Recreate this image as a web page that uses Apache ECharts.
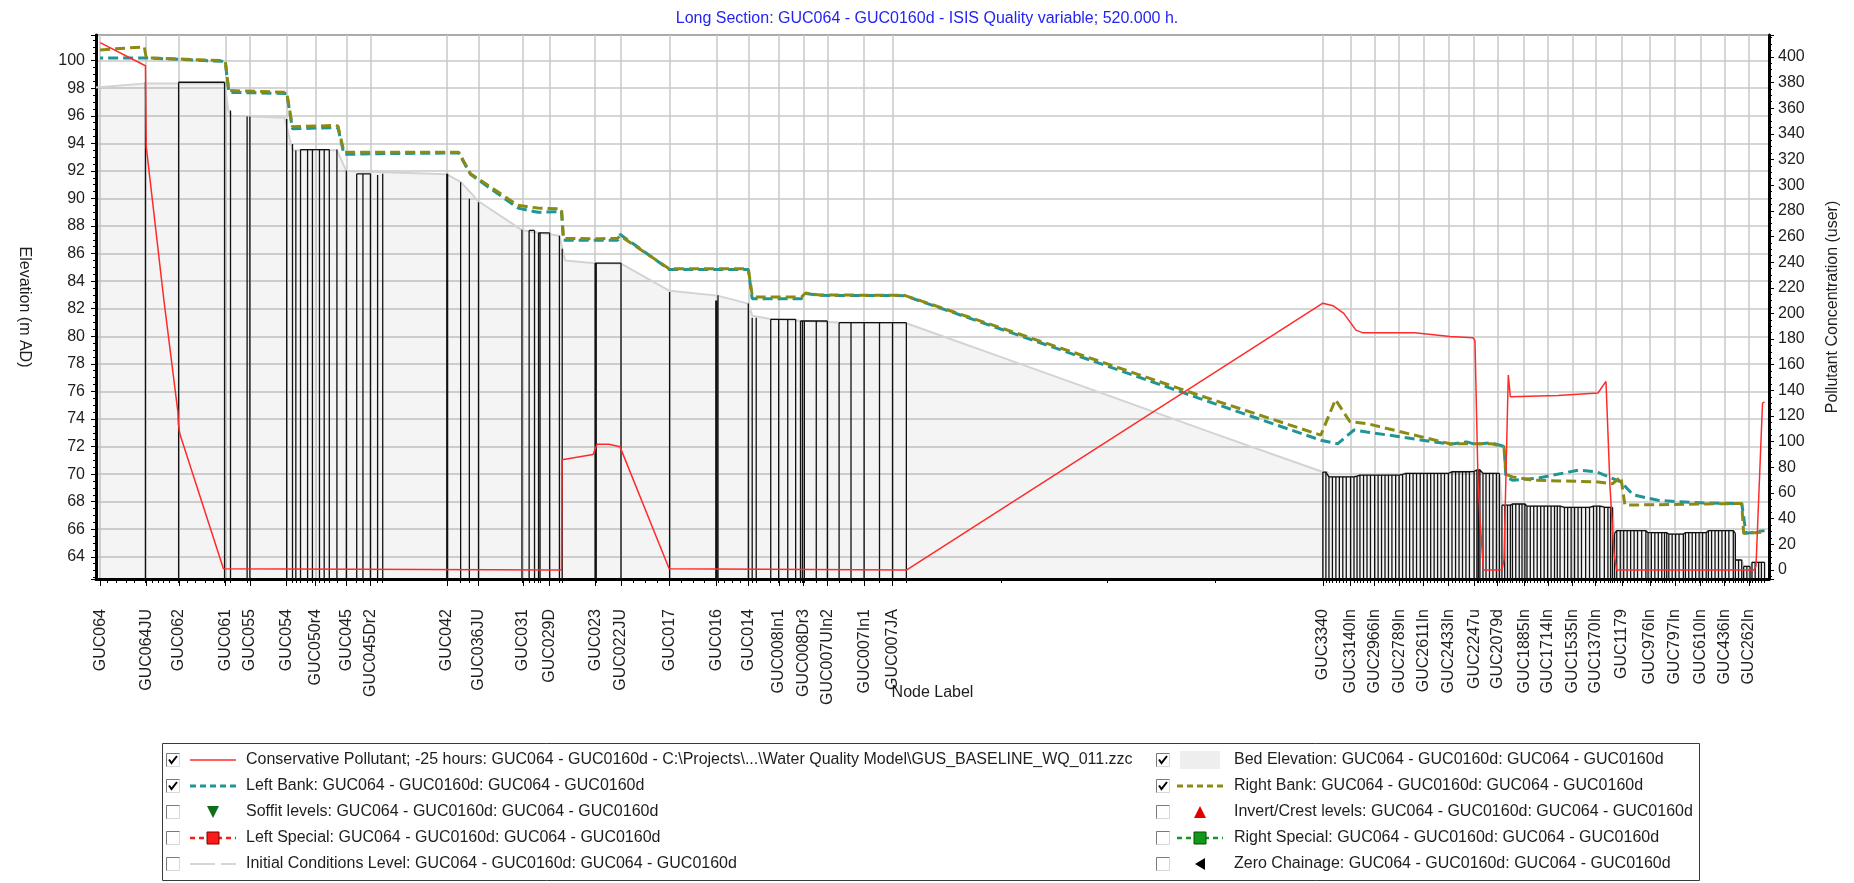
<!DOCTYPE html>
<html>
<head>
<meta charset="utf-8">
<script src="https://cdn.jsdelivr.net/npm/echarts@6/dist/echarts.min.js"></script>
<style>
  html, body { margin: 0; padding: 0; background: #ffffff; }
  #chart { width: 1854px; height: 883px; }
</style>
</head>
<body>
<div id="chart"></div>
<script>
// Long section of the GUC064 - GUC0160d reach: bed, banks, structures and pollutant concentration.
const FONT = "'Liberation Sans', Arial, sans-serif";

// Labelled nodes and their chainage (m)
const nodeLabels = ['GUC064','GUC064JU','GUC062','GUC061','GUC055','GUC054','GUC050r4','GUC045','GUC045Dr2',
  'GUC042','GUC036JU','GUC031','GUC029D','GUC023','GUC022JU','GUC017','GUC016','GUC014','GUC008In1',
  'GUC008Dr3','GUC007UIn2','GUC007In1','GUC007JA','GUC3340','GUC3140In','GUC2966In','GUC2789In',
  'GUC2611In','GUC2433In','GUC2247u','GUC2079d','GUC1885In','GUC1714In','GUC1535In','GUC1370In',
  'GUC1179','GUC976In','GUC797In','GUC610In','GUC436In','GUC262In'];
const nodeChainage = [0, 333, 568, 905, 1082, 1348, 1556, 1780, 1954, 2505, 2734, 3054, 3248, 3577, 3764,
  4115, 4455, 4684, 4906, 5083, 5255, 5521, 5727, 8836, 9036, 9210, 9387, 9565, 9743, 9929, 10097, 10291,
  10462, 10641, 10806, 10997, 11200, 11379, 11566, 11740, 11914];

// Unlabelled cross-sections (minor ticks)
const sectionChainage = [53, 119, 185, 247, 376, 419, 453, 499, 633, 690, 756, 819, 3849, 3941, 4026,
  4197, 4283, 4369, 4513, 4570, 4627, 6512, 7278, 8056];

// Axis ranges
const chainRange = [-30, 12060];
const elevRange = [62.39, 101.86];
const concRange = [-7, 417];

// Bed elevation (chainage, m AD)
const bedElevation = [[-30, 98.05], [333, 98.35], [899, 98.35], [928, 96.3], [950, 96.0], [1333, 95.85],
  [1390, 93.5], [1711, 93.5], [1779, 92.0], [2505, 91.75], [2605, 91.2], [2734, 89.8], [3048, 87.7],
  [3319, 87.3], [3360, 85.5], [3577, 85.3], [3764, 85.27], [4115, 83.3], [4460, 82.95], [4684, 82.37],
  [4712, 81.5], [4846, 81.25], [5061, 81.12], [5340, 81.0], [5826, 80.95], [6512, 78.49], [7278, 75.73],
  [8056, 72.92], [8836, 70.15], [8870, 70.15], [8880, 69.8], [9061, 69.8], [9104, 69.93], [9393, 69.93],
  [9422, 70.05], [9740, 70.05], [9769, 70.17], [9906, 70.17], [9949, 70.3], [9971, 70.3], [9993, 70.05],
  [10112, 70.05], [10130, 67.75], [10191, 67.75], [10206, 67.83], [10296, 67.83], [10311, 67.68],
  [10550, 67.68], [10582, 67.58], [10763, 67.58], [10792, 67.68], [10837, 67.68], [10896, 67.58],
  [10929, 67.58], [10944, 65.7], [10960, 65.9], [11170, 65.9], [11186, 65.75], [11321, 65.75],
  [11336, 65.65], [11441, 65.65], [11456, 65.75], [11606, 65.75], [11622, 65.9], [11802, 65.9],
  [11817, 63.77], [11863, 63.77], [11877, 63.3], [11923, 63.3], [11937, 63.6], [12028, 63.6]];

// Left bank (chainage, m AD)
const leftBank = [[0, 100.2], [319, 100.2], [327, 100.3], [333, 100.15], [568, 100.1], [883, 99.95],
  [905, 99.85], [930, 97.7], [1348, 97.62], [1390, 95.05], [1704, 95.15], [1719, 95.1], [1762, 93.2],
  [2022, 93.25], [2591, 93.3], [2676, 91.75], [3020, 89.3], [3163, 89.0], [3319, 89.05], [3334, 89.1],
  [3348, 86.96], [3740, 86.96], [3756, 87.4], [4112, 84.85], [4684, 84.85], [4693, 84.75], [4712, 82.73],
  [5069, 82.73], [5083, 82.9], [5098, 83.1], [5200, 82.97], [5813, 82.95], [6512, 80.51], [7278, 77.84],
  [7948, 75.48], [8821, 72.46], [8942, 72.2], [9061, 73.2], [9153, 73.06], [9755, 72.17], [9875, 72.34],
  [9935, 72.17], [10056, 72.27], [10145, 72.0], [10159, 69.8], [10206, 69.56], [10387, 69.7],
  [10687, 70.3], [10810, 70.17], [10990, 69.44], [11077, 68.5], [11258, 68.1], [11395, 68.0],
  [11600, 67.9], [11863, 67.87], [11894, 65.7], [12028, 65.9]];

// Right bank (chainage, m AD)
const rightBank = [[0, 100.78], [319, 101.0], [327, 101.0], [333, 100.2], [568, 100.12], [883, 100.0],
  [905, 99.9], [930, 97.83], [1348, 97.7], [1390, 95.2], [1704, 95.3], [1719, 95.25], [1762, 93.36],
  [2591, 93.36], [2676, 91.8], [3020, 89.5], [3163, 89.3], [3319, 89.25], [3334, 89.2], [3348, 87.1],
  [3612, 87.08], [3740, 87.1], [3756, 87.3], [4112, 84.9], [4684, 84.9], [4693, 84.8], [4712, 82.97],
  [4745, 82.85], [5069, 82.85], [5083, 83.0], [5098, 83.14], [5200, 83.0], [5813, 82.97], [6512, 80.6],
  [7278, 78.0], [7948, 75.7], [8821, 72.83], [8927, 75.4], [9032, 73.8], [9153, 73.67], [9755, 72.2],
  [10056, 72.2], [10145, 72.0], [10159, 70.0], [10206, 69.8], [10354, 69.56], [10810, 69.44],
  [10929, 69.3], [10989, 69.8], [11019, 67.75], [11863, 67.87], [11877, 65.7], [12028, 65.8]];

// Conservative pollutant concentration (chainage, user units)
const pollutant = [[0, 411], [327, 393], [333, 330], [461, 210], [562, 123], [565, 114], [576, 106],
  [891, 1], [900, 0], [3319, 0], [3334, 0], [3338, 86], [3348, 86], [3562, 90], [3591, 98], [3677, 98],
  [3757, 96], [4112, 1], [4125, 0], [5826, 0], [8836, 208], [8909, 206], [8987, 200], [9075, 187],
  [9122, 185], [9499, 185], [9755, 182], [9921, 181], [9935, 179], [9957, 70], [9972, 39], [9996, 0],
  [10130, 0], [10145, 8], [10152, 8], [10176, 152], [10191, 135], [10535, 136], [10824, 138],
  [10882, 147], [10911, 65], [10940, 13], [10959, 0], [11952, 0], [11966, 3], [12013, 130], [12028, 131]];

// Structure / culvert runs: each run is a list of (chainage, top level)
const culvertRuns = [
  [[327, 98.43]],
  [[567, 98.43], [899, 98.43]],
  [[942, 96.38]], [[1062, 95.94]], [[1082, 95.94]], [[1348, 95.77]], [[1390, 93.96]], [[1414, 93.48]],
  [[1448, 93.55], [1499, 93.55], [1534, 93.55], [1585, 93.55], [1619, 93.55], [1656, 93.55]],
  [[1711, 93.55]], [[1779, 92.03]],
  [[1854, 91.79], [1899, 91.79], [1953, 91.79]],
  [[2005, 91.7]], [[2042, 91.8]], [[2505, 91.79]], [[2511, 91.79]], [[2605, 91.18]], [[2668, 89.98]],
  [[2734, 89.73]], [[3048, 87.73]],
  [[3100, 87.68], [3139, 87.68]],
  [[3168, 87.51], [3179, 87.51], [3248, 87.51]],
  [[3319, 87.3]], [[3339, 86.35]],
  [[3577, 85.31], [3585, 85.31], [3764, 85.31]],
  [[4115, 83.21]], [[4449, 82.6]], [[4455, 82.6]], [[4465, 82.97]], [[4684, 82.37]], [[4712, 81.35]],
  [[4741, 81.35]],
  [[4846, 81.23], [4903, 81.23], [4969, 81.23], [5026, 81.23]],
  [[5061, 81.11], [5075, 81.11], [5089, 81.11], [5175, 81.11], [5255, 81.11]],
  [[5340, 80.99], [5426, 80.99], [5521, 80.99], [5632, 80.99], [5726, 80.99], [5826, 80.99]]
];

const channelRuns = [
  [[8836, 70.15], [8858, 70.15], [8880, 69.8], [8905, 69.8], [8930, 69.8], [8955, 69.8], [8980, 69.8],
   [9005, 69.8], [9036, 69.8], [9061, 69.8], [9083, 69.85], [9104, 69.93], [9130, 69.93], [9155, 69.93],
   [9180, 69.93], [9210, 69.93], [9235, 69.93], [9260, 69.93], [9285, 69.93], [9310, 69.93], [9335, 69.93],
   [9362, 69.93], [9387, 69.93], [9412, 69.98], [9438, 70.05], [9463, 70.05], [9488, 70.05], [9513, 70.05],
   [9540, 70.05], [9565, 70.05], [9590, 70.05], [9615, 70.05], [9640, 70.05], [9665, 70.05], [9690, 70.05],
   [9715, 70.05], [9743, 70.05], [9769, 70.17], [9795, 70.17], [9820, 70.17], [9845, 70.17], [9870, 70.17],
   [9895, 70.17], [9929, 70.2], [9949, 70.3], [9960, 70.3], [9971, 70.3], [9993, 70.05], [10015, 70.05],
   [10040, 70.05], [10065, 70.05], [10090, 70.05], [10112, 70.05]],
  [[10130, 67.75], [10150, 67.75], [10170, 67.75], [10191, 67.75], [10206, 67.83], [10230, 67.83],
   [10255, 67.83], [10275, 67.83], [10296, 67.83], [10311, 67.68], [10335, 67.68], [10360, 67.68],
   [10385, 67.68], [10410, 67.68], [10435, 67.68], [10460, 67.68], [10485, 67.68], [10510, 67.68],
   [10530, 67.68], [10550, 67.68], [10582, 67.58], [10605, 67.58], [10630, 67.58], [10655, 67.58],
   [10680, 67.58], [10705, 67.58], [10735, 67.58], [10763, 67.58], [10792, 67.68], [10815, 67.68],
   [10837, 67.68], [10870, 67.6], [10896, 67.58], [10915, 67.58], [10929, 67.58]],
  [[10944, 65.7], [10960, 65.9], [10985, 65.9], [11010, 65.9], [11035, 65.9], [11060, 65.9], [11085, 65.9],
   [11110, 65.9], [11140, 65.9], [11170, 65.9], [11186, 65.75], [11210, 65.75], [11235, 65.75],
   [11260, 65.75], [11285, 65.75], [11305, 65.75], [11321, 65.75], [11336, 65.65], [11360, 65.65],
   [11385, 65.65], [11410, 65.65], [11441, 65.65], [11456, 65.75], [11480, 65.75], [11505, 65.75],
   [11530, 65.75], [11555, 65.75], [11580, 65.75], [11606, 65.75], [11622, 65.9], [11645, 65.9],
   [11670, 65.9], [11695, 65.9], [11720, 65.9], [11745, 65.9], [11770, 65.9], [11802, 65.9], [11817, 65.7]],
  [[11817, 63.77], [11840, 63.77], [11863, 63.77]],
  [[11877, 63.3], [11900, 63.3], [11923, 63.3]],
  [[11937, 63.6], [11960, 63.6], [11985, 63.6], [12005, 63.6], [12028, 63.6]]
];

// Legend rows: [column, label, checked, symbol kind]
const legendRows = [
  [0, 'Conservative Pollutant; -25 hours: GUC064 - GUC0160d - C:\\Projects\\...\\Water Quality Model\\GUS_BASELINE_WQ_011.zzc', true, 'redLine'],
  [0, 'Left Bank: GUC064 - GUC0160d: GUC064 - GUC0160d', true, 'tealDash'],
  [0, 'Soffit levels: GUC064 - GUC0160d: GUC064 - GUC0160d', false, 'greenDown'],
  [0, 'Left Special: GUC064 - GUC0160d: GUC064 - GUC0160d', false, 'redSquare'],
  [0, 'Initial Conditions Level: GUC064 - GUC0160d: GUC064 - GUC0160d', false, 'greyLine'],
  [1, 'Bed Elevation: GUC064 - GUC0160d: GUC064 - GUC0160d', true, 'greyFill'],
  [1, 'Right Bank: GUC064 - GUC0160d: GUC064 - GUC0160d', true, 'oliveDash'],
  [1, 'Invert/Crest levels: GUC064 - GUC0160d: GUC064 - GUC0160d', false, 'redUp'],
  [1, 'Right Special: GUC064 - GUC0160d: GUC064 - GUC0160d', false, 'greenSquare'],
  [1, 'Zero Chainage: GUC064 - GUC0160d: GUC064 - GUC0160d', false, 'blackLeft']
];

const TEAL = '#1f9595';
const OLIVE = '#8b8b14';
const RED = '#ff2b2b';

// Vertical section lines from the plot floor up to the structure level, with the top outline of each run
function structurePath(runs, base) {
  const pts = [];
  runs.forEach(run => {
    run.forEach(([x, top]) => { pts.push([x, base], [x, top], [x, null]); });
    if (run.length > 1) {
      run.forEach(p => pts.push([p[0], p[1]]));
      pts.push([run[run.length - 1][0], null]);
    }
  });
  return pts;
}

const labelOf = {};
nodeChainage.forEach((c, i) => { labelOf[c] = nodeLabels[i]; });

const minorTicks = sectionChainage
  .concat(...culvertRuns.map(r => r.map(p => p[0])))
  .concat(...channelRuns.map(r => r.map(p => p[0])));

// Legend drawn as a boxed table with check boxes
function legendGraphics() {
  const els = [];
  const rowY = [760, 786, 812, 838, 864];
  const colBox = [166, 1156], colSym = [213, 1200], colText = [246, 1234];
  els.push({ type: 'rect', shape: { x: 162.5, y: 743.5, width: 1537, height: 137 },
    style: { fill: '#ffffff', stroke: '#3a3a3a', lineWidth: 1 }, z: 10 });
  const counters = [0, 0];
  legendRows.forEach(([col, text, checked, kind]) => {
    const cy = rowY[counters[col]++];
    const bx = colBox[col], by = cy - 7, sx = colSym[col];
    els.push({ type: 'rect', shape: { x: bx + 0.5, y: by + 0.5, width: 13, height: 13 },
      style: { fill: '#ffffff', stroke: '#d8d8d8', lineWidth: 1 }, z: 11 });
    els.push({ type: 'polyline', shape: { points: [[bx + 0.5, by + 13.5], [bx + 0.5, by + 0.5], [bx + 13.5, by + 0.5]] },
      style: { stroke: '#7a7a7a', lineWidth: 1, fill: null }, z: 12 });
    if (checked) {
      els.push({ type: 'polyline', shape: { points: [[bx + 3, by + 6.5], [bx + 5.5, by + 10], [bx + 11, by + 3]] },
        style: { stroke: '#000000', lineWidth: 2, fill: null }, z: 12 });
    }
    const line = (color, w, dash) => ({ type: 'line', shape: { x1: sx - 23, y1: cy, x2: sx + 23, y2: cy },
      style: { stroke: color, lineWidth: w, lineDash: dash || null }, z: 11 });
    if (kind === 'redLine') els.push(line(RED, 1.5));
    if (kind === 'tealDash') els.push(line(TEAL, 3, [6, 4]));
    if (kind === 'oliveDash') els.push(line(OLIVE, 3, [6, 4]));
    if (kind === 'greyLine') {
      els.push({ type: 'line', shape: { x1: sx - 23, y1: cy, x2: sx + 2, y2: cy }, style: { stroke: '#c8c8c8', lineWidth: 1.5 }, z: 11 });
      els.push({ type: 'line', shape: { x1: sx + 8, y1: cy, x2: sx + 23, y2: cy }, style: { stroke: '#c8c8c8', lineWidth: 1.5 }, z: 11 });
    }
    if (kind === 'greyFill') els.push({ type: 'rect', shape: { x: sx - 20, y: cy - 9, width: 40, height: 18 },
      style: { fill: '#eeeeee', stroke: null }, z: 11 });
    if (kind === 'greenDown') els.push({ type: 'polygon', shape: { points: [[sx - 6, cy - 6], [sx + 6, cy - 6], [sx, cy + 6]] },
      style: { fill: '#0f6e1a' }, z: 11 });
    if (kind === 'redUp') els.push({ type: 'polygon', shape: { points: [[sx - 6, cy + 6], [sx + 6, cy + 6], [sx, cy - 6]] },
      style: { fill: '#e00000' }, z: 11 });
    if (kind === 'blackLeft') els.push({ type: 'polygon', shape: { points: [[sx + 5, cy - 6], [sx + 5, cy + 6], [sx - 5, cy]] },
      style: { fill: '#000000' }, z: 11 });
    if (kind === 'redSquare' || kind === 'greenSquare') {
      const c = kind === 'redSquare' ? '#ff1a1a' : '#119a1a';
      const e = kind === 'redSquare' ? '#7a0000' : '#0a4a0a';
      els.push(line(c, 2.5, [5, 4]));
      els.push({ type: 'rect', shape: { x: sx - 6, y: cy - 6, width: 12, height: 12 },
        style: { fill: c, stroke: e, lineWidth: 1 }, z: 12 });
    }
    els.push({ type: 'text', x: colText[col], y: cy, z: 12,
      style: { text: text, fill: '#1e1e1e', font: '16px ' + FONT, align: 'left', verticalAlign: 'middle',
        textAlign: 'left', textVerticalAlign: 'middle' } });
  });
  return els;
}

const axisText = { fontSize: 16, color: '#1e1e1e', fontFamily: FONT };

const option = {
  animation: false,
  backgroundColor: '#ffffff',
  title: {
    text: 'Long Section: GUC064 - GUC0160d - ISIS Quality variable; 520.000 h.',
    left: 'center', top: 6,
    textStyle: { fontSize: 16, fontWeight: 'normal', color: '#2424f2', fontFamily: FONT }
  },
  grid: { left: 96, right: 85, top: 35, bottom: 304, show: true, borderColor: '#505050', borderWidth: 2,
    backgroundColor: 'transparent', containLabel: false, outerBoundsMode: 'none' },
  xAxis: [{
    type: 'value', min: chainRange[0], max: chainRange[1], position: 'bottom',
    name: 'Node Label', nameLocation: 'middle', nameGap: 106, nameMoveOverlap: false, nameTextStyle: axisText,
    axisLine: { show: true, onZero: false, lineStyle: { color: '#000000', width: 3 } },
    axisTick: { show: true, customValues: nodeChainage, length: 7, lineStyle: { color: '#000000', width: 1 } },
    axisLabel: Object.assign({ customValues: nodeChainage, rotate: 90, margin: 30, interval: 0,
      hideOverlap: false, formatter: v => labelOf[v] || '' }, axisText),
    splitLine: { show: true, lineStyle: { color: '#c8c8c8', width: 1.5 } }
  }, {
    type: 'value', min: chainRange[0], max: chainRange[1], position: 'bottom',
    axisLine: { show: false, onZero: false },
    axisTick: { show: true, customValues: minorTicks, length: 4, lineStyle: { color: '#000000', width: 1 } },
    axisLabel: { show: false }, splitLine: { show: false }
  }],
  yAxis: [{
    type: 'value', position: 'left', min: elevRange[0], max: elevRange[1], splitNumber: 20,
    name: 'Elevation (m AD)', nameLocation: 'middle', nameGap: 64, nameRotate: -90, nameMoveOverlap: false,
    nameTextStyle: axisText,
    axisLine: { show: true, onZero: false, lineStyle: { color: '#000000', width: 3 } },
    axisTick: { show: true, length: 5, lineStyle: { color: '#000000' } },
    minorTick: { show: true, splitNumber: 4, length: 3, lineStyle: { color: '#000000' } },
    axisLabel: Object.assign({ margin: 11, showMinLabel: false, showMaxLabel: false }, axisText),
    splitLine: { show: true, lineStyle: { color: '#c8c8c8', width: 1.5 } }
  }, {
    type: 'value', position: 'right', min: concRange[0], max: concRange[1], splitNumber: 21,
    name: 'Pollutant Concentration (user)', nameLocation: 'middle', nameGap: 56, nameRotate: 90,
    nameMoveOverlap: false, nameTextStyle: axisText,
    axisLine: { show: true, onZero: false, lineStyle: { color: '#000000', width: 3 } },
    axisTick: { show: true, length: 5, lineStyle: { color: '#000000' } },
    minorTick: { show: true, splitNumber: 4, length: 3, lineStyle: { color: '#000000' } },
    axisLabel: Object.assign({ margin: 9, showMinLabel: false, showMaxLabel: false }, axisText),
    splitLine: { show: false }
  }],
  series: [{
    name: 'Bed Elevation', type: 'line', data: bedElevation, symbol: 'none', z: 1, silent: true,
    lineStyle: { color: '#d3d3d3', width: 2 },
    areaStyle: { color: 'rgba(0,0,0,0.06)', origin: 'start' }
  }, {
    name: 'Structures', type: 'line', symbol: 'none', z: 2, silent: true, connectNulls: false,
    data: structurePath(culvertRuns.concat(channelRuns), elevRange[0]),
    lineStyle: { color: '#111111', width: 1.3 }
  }, {
    name: 'Left Bank', type: 'line', data: leftBank, symbol: 'none', z: 3, silent: true,
    lineStyle: { color: TEAL, width: 3, type: [10, 5], dashOffset: 7 }
  }, {
    name: 'Right Bank', type: 'line', data: rightBank, symbol: 'none', z: 4, silent: true,
    lineStyle: { color: OLIVE, width: 3, type: [10, 5] }
  }, {
    name: 'Conservative Pollutant', type: 'line', yAxisIndex: 1, data: pollutant, symbol: 'none', z: 5,
    silent: true, lineStyle: { color: RED, width: 1.5 }
  }],
  graphic: legendGraphics()
};

const chart = echarts.init(document.getElementById('chart'), null, { renderer: 'canvas' });
chart.setOption(option);
</script>
</body>
</html>
